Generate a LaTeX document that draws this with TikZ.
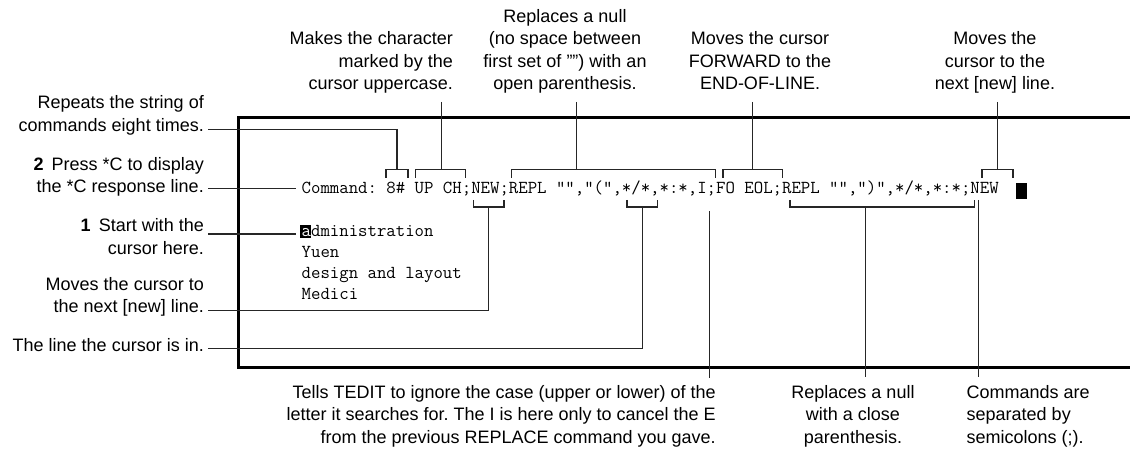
\documentclass[tikz,border=0pt]{standalone}
\usepackage{fontspec}
\usetikzlibrary{calc}
\setmainfont{Liberation Sans}
\newcommand{\lblfont}{\fontsize{18}{22.5}\selectfont\frenchspacing}
\newcommand{\scrfont}{\fontsize{18.29}{21}\selectfont\ttfamily\frenchspacing}
\newcommand{\cx}[1]{301.5+9.6*(#1)}
\begin{document}
\begin{tikzpicture}[x=1pt,y=-1pt,
  lbl/.style={font=\lblfont, inner sep=0pt},
  scr/.style={font=\scrfont, inner sep=0pt, anchor=base west},
  lead/.style={draw=black!85, line width=1.4pt},
  frame/.style={draw=black, line width=3pt},
  cur/.style={fill=black, draw=none}]

\useasboundingbox (0,0) rectangle (1130,454);

% screen frame
\draw[frame] (1130,117.5) -- (238.5,117.5) -- (238.5,367.5) -- (1130,367.5);

% screen text
\node[scr] (cmd) at (301.5,194) {Command: 8\# UP CH;NEW;REPL \symbol{34}\symbol{34},\symbol{34}(\symbol{34},*/*,*:*,I;FO EOL;REPL \symbol{34}\symbol{34},\symbol{34})\symbol{34},*/*,*:*;NEW};
\fill[cur] (1016,183) rectangle (1027,199);
\fill[cur] (300,225.5) rectangle (311,238.5);
\node[scr] (adm) at (301.5,236.5) {\textcolor{white}{a}dministration};
\node[scr] (yuen) at (301.5,257.5) {Yuen};
\node[scr] (des) at (301.5,278.5) {design and layout};
\node[scr] (med) at (301.5,299.5) {Medici};

% top brackets
\coordinate (t8a) at ({\cx{9}-2},178);   \coordinate (t8b) at ({\cx{11}+1},178);
\coordinate (tUPa) at ({\cx{12}-1},178); \coordinate (tUPb) at ({\cx{17}+1},178);
\coordinate (tRPa) at ({\cx{22}-1},178); \coordinate (tRPb) at ({\cx{43}+1},178);
\coordinate (tFOa) at ({\cx{44}-1},178); \coordinate (tFOb) at ({\cx{50}+1},178);
\coordinate (tNWa) at ({\cx{71}-1},178); \coordinate (tNWb) at ({\cx{74}+1},178);
\foreach \b in {t8,tUP,tRP,tFO,tNW}{
  \draw[lead] (\b a) -- ++(0,-8.5) -| (\b b);
}
% bottom brackets
\coordinate (bNWa) at ({\cx{18}-1},200); \coordinate (bNWb) at ({\cx{21}+1},200);
\coordinate (bSTa) at ({\cx{34}-1},200); \coordinate (bSTb) at ({\cx{37}+1},200);
\coordinate (bRPa) at ({\cx{51}-1},200); \coordinate (bRPb) at ({\cx{70}+1},200);
\foreach \b in {bNW,bST,bRP}{
  \draw[lead] (\b a) -- ++(0,7) -| (\b b);
}
\coordinate (t8m) at ($(t8a)!0.5!(t8b)+(0,-8.5)$);
\coordinate (tUPm) at ($(tUPa)!0.5!(tUPb)+(0,-8.5)$);
\coordinate (tFOm) at ($(tFOa)!0.5!(tFOb)+(0,-8.5)$);
\coordinate (tNWm) at ($(tNWa)!0.5!(tNWb)+(0,-8.5)$);
\coordinate (bNWm) at ($(bNWa)!0.5!(bNWb)+(0,7)$);
\coordinate (bSTm) at ($(bSTa)!0.5!(bSTb)+(0,7)$);

% left labels (base anchor = last line)
\node[lbl, align=right, anchor=base east] (labA) at (204,131.5) {Repeats the string of\\commands eight times.};
\node[lbl, align=right, anchor=base east] (labB) at (204,193) {\textbf{2}\hspace{8pt}Press *C to display\\the *C response line.};
\node[lbl, align=right, anchor=base east] (labC) at (204,254.5) {\textbf{1}\hspace{8pt}Start with the\\cursor here.};
\node[lbl, align=right, anchor=base east] (labD) at (204,312.5) {Moves the cursor to\\the next [new] line.};
\node[lbl, align=right, anchor=base east] (labE) at (204,351.5) {The line the cursor is in.};

\coordinate (lA) at (208,129.5);
\coordinate (lB) at (208,188.5);
\coordinate (lC) at (208,234);
\coordinate (lD) at (208,310.5);
\coordinate (lE) at (208,348.5);
\draw[lead] (lA) -| (t8m);
\draw[lead, shorten >=6pt] (lB) -- (lB -| cmd.west);
\draw[lead, shorten >=6pt] (lC) -- (lC -| adm.west);
\draw[lead] (lD) -| (bNWm);
\draw[lead] (lE) -| (bSTm);

% top labels
\node[lbl, align=right, anchor=base east] (labF) at (453,90) {Makes the character\\marked by the\\cursor uppercase.};
\node[lbl, align=center, anchor=base] (labG) at (565,90) {Replaces a null\\(no space between\\first set of \symbol{34}\symbol{34}) with an\\open parenthesis.};
\node[lbl, align=center, anchor=base] (labH) at (760,90) {Moves the cursor\\FORWARD to the\\END-OF-LINE.};
\node[lbl, align=center, anchor=base] (labI) at (995,90) {Moves the\\cursor to the\\next [new] line.};

\coordinate (vF) at (441.5,102);
\coordinate (vG) at (576.5,102);
\coordinate (vH) at (tFOm |- vF);
\coordinate (vI) at (tNWm |- vF);
\draw[lead] (vF) -- (vF |- tUPm);
\draw[lead] (vG) -- (vG |- tUPm);
\draw[lead] (vH) -- (tFOm);
\draw[lead] (vI) -- (tNWm);

% bottom labels
\node[lbl, align=right, anchor=base east] (labT) at (716,443) {Tells TEDIT to ignore the case (upper or lower) of the\\letter it searches for. The I is here only to cancel the E\\from the previous REPLACE command you gave.};
\node[lbl, align=center, anchor=base] (labR) at (853,443) {Replaces a null\\with a close\\parenthesis.};
\node[lbl, align=left, anchor=base west] (labS) at (966.5,443) {Commands are\\separated by\\semicolons (;).};

\coordinate (iI) at ({\cx{42.5}},211.5);
\coordinate (iS) at ({\cx{70.5}},200);
\coordinate (iR) at (865.5,207);
\draw[lead] (iI) -- ++(0,166.5);
\draw[lead] (iR) -- ++(0,170);
\draw[lead] (iS) -- ++(0,177);
\end{tikzpicture}
\end{document}
